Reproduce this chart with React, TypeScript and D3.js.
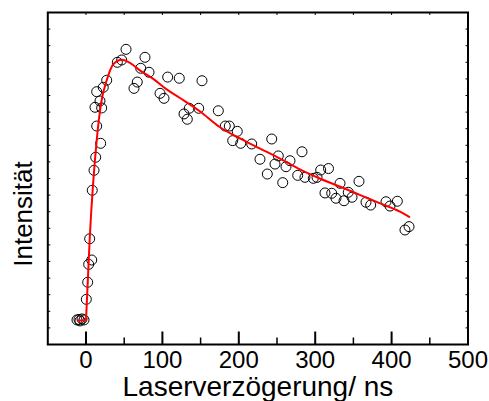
import React from "react";
import * as d3 from "d3";

const delayNs = [-11.8, -9.2, -7.9, -5.2, -2.6, 0.4, 2.2, 3.5, 7.5, 4.8, 8.2, 10.5, 12.7, 19.2, 14.0, 11.8, 20.5, 18.3, 14.0, 22.6, 27.1, 41.0, 46.7, 52.4, 62.8, 67.1, 71.6, 77.2, 82.5, 96.9, 102.1, 106.9, 122.1, 128.3, 132.6, 135.2, 147.5, 151.8, 173.2, 182.3, 187.6, 192.0, 198.0, 202.5, 216.9, 227.7, 237.3, 243.1, 247.4, 251.7, 257.5, 261.8, 267.0, 277.1, 282.7, 286.6, 297.5, 302.4, 307.2, 312.8, 317.4, 321.6, 327.2, 332.5, 337.7, 343.3, 348.2, 357.3, 366.5, 372.6, 392.7, 397.9, 407.5, 417.5, 422.8];
const intensity = [1.48, 1.51, 1.42, 1.54, 1.48, 2.72, 3.75, 4.83, 5.09, 6.37, 9.29, 10.49, 11.28, 12.12, 13.16, 14.29, 14.25, 14.67, 15.23, 15.49, 15.92, 17.0, 17.14, 17.78, 15.43, 15.81, 16.64, 17.3, 16.4, 15.13, 14.83, 16.11, 16.04, 13.89, 13.57, 14.23, 14.23, 15.89, 14.08, 13.16, 13.16, 12.28, 12.84, 12.12, 12.08, 11.16, 10.27, 12.38, 10.87, 11.36, 9.75, 10.71, 11.07, 10.19, 11.61, 10.07, 10.01, 10.07, 10.51, 9.13, 10.6, 9.11, 8.81, 9.71, 8.66, 9.17, 8.87, 9.83, 8.57, 8.4, 8.6, 8.34, 8.63, 6.9, 7.1];

const fitX = [-12, 0, 5, 14, 20, 27, 36, 47, 58, 71, 88, 106, 123, 149, 175, 202, 228, 254, 280, 306, 333, 359, 385, 411, 424];
const fitY = [1.45, 1.45, 6.5, 12.3, 14.6, 15.9, 16.9, 17.15, 16.95, 16.5, 16.0, 15.35, 14.85, 14.05, 13.1, 12.4, 11.8, 11.2, 10.55, 10.0, 9.5, 9.0, 8.5, 8.0, 7.66];

const xMajorTicks = [0, 100, 200, 300, 400, 500];
const xMinorTicks = [50, 150, 250, 350, 450];
const yTickCount = 20;

const W = 489, H = 401;
const L = 47.8, R = 468, T = 12.5, B = 344.5;
const FONT = "'Liberation Sans', Arial, sans-serif";

export default function App() {
  const x = d3.scaleLinear().domain([-50, 500]).range([L, R]);
  const y = d3.scaleLinear().domain([0, yTickCount]).range([B, T]);
  const fitData = fitX.map((v, i) => [v, fitY[i]] as [number, number]);
  const baseLine = d3.line<[number, number]>().x(d => x(d[0])).y(d => y(d[1]));
  const smoothLine = d3.line<[number, number]>().x(d => x(d[0])).y(d => y(d[1])).curve(d3.curveMonotoneX);
  const yTicks = d3.range(1, yTickCount);
  const topTicks = [...xMajorTicks, ...xMinorTicks].filter(v => v < 500);

  return (
    <svg width={W} height={H} style={{ position: "absolute", left: 0, top: 0 }} fontFamily={FONT}>
      <rect x={0} y={0} width={W} height={H} fill="#fff" />
      {delayNs.map((v, i) => (
        <circle key={i} cx={x(v)} cy={y(intensity[i])} r={5} fill="none" stroke="#000" strokeWidth={1} />
      ))}
      <path d={baseLine(fitData.slice(0, 2)) || ""} fill="none" stroke="#ff0000" strokeWidth={2} />
      <path d={smoothLine(fitData.slice(1)) || ""} fill="none" stroke="#ff0000" strokeWidth={2} />
      <rect x={L} y={T} width={R - L} height={B - T} fill="none" stroke="#000" strokeWidth={2} />
      {xMajorTicks.map(v => (
        <line key={"M" + v} x1={x(v)} x2={x(v)} y1={B} y2={B - 13} stroke="#000" strokeWidth={2} />
      ))}
      {xMinorTicks.map(v => (
        <line key={"m" + v} x1={x(v)} x2={x(v)} y1={B} y2={B - 7} stroke="#000" strokeWidth={1.5} />
      ))}
      {topTicks.map(v => (
        <line key={"t" + v} x1={x(v)} x2={x(v)} y1={T} y2={T + 2.5} stroke="#000" strokeWidth={1} />
      ))}
      {yTicks.map(v => (
        <g key={"y" + v}>
          <line x1={L} x2={L + 2.5} y1={y(v)} y2={y(v)} stroke="#000" strokeWidth={1} />
          <line x1={R} x2={R - 2.5} y1={y(v)} y2={y(v)} stroke="#000" strokeWidth={1} />
        </g>
      ))}
      {xMajorTicks.map(v => (
        <text key={"l" + v} x={x(v)} y={368} textAnchor="middle" fontSize={24} fill="#000">{v}</text>
      ))}
      <text x={(L + R) / 2} y={396} textAnchor="middle" fontSize={28} fill="#000">Laserverzögerung/ ns</text>
      <text transform={`translate(31.5,214) rotate(-90)`} textAnchor="middle" fontSize={26} fill="#000">Intensität</text>
    </svg>
  );
}
